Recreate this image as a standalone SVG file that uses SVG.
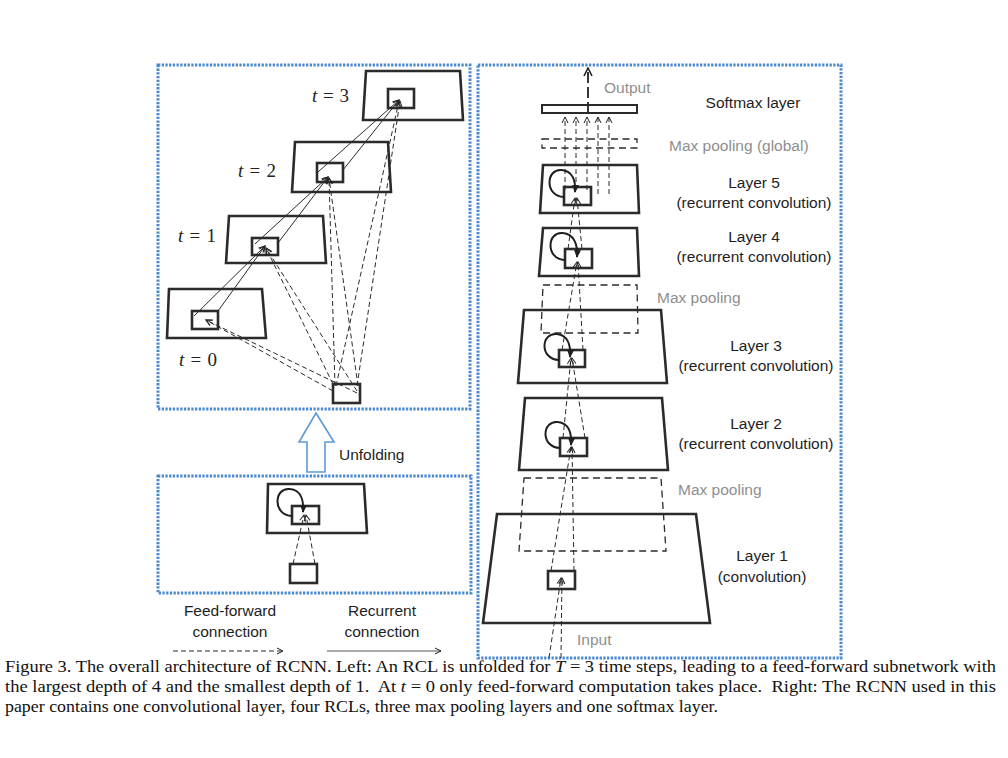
<svg xmlns="http://www.w3.org/2000/svg" width="1008" height="758" viewBox="0 0 1008 758">
<style>
.bg{fill:#fff}
.panel{fill:none;stroke:#4a89d0;stroke-width:3;stroke-dasharray:2.3 1.4}
.trap{fill:none;stroke:#2b2b2b;stroke-width:2.6;stroke-linejoin:miter}
.box{fill:#fff;stroke:#2b2b2b;stroke-width:2.6}
.pool{fill:none;stroke:#2b2b2b;stroke-width:1.3;stroke-dasharray:7 4.5}
.ff{fill:none;stroke:#2b2b2b;stroke-width:1;stroke-dasharray:5 3}
.rc{fill:none;stroke:#2b2b2b;stroke-width:1}
.loop{fill:none;stroke:#1e1e1e;stroke-width:2}
.lab{font-family:"Liberation Sans",Arial,sans-serif;font-size:15.5px;fill:#1e1e1e}
.grey{font-family:"Liberation Sans",Arial,sans-serif;font-size:15.5px;fill:#8e8e8e}
.tl{font-family:"Liberation Serif","Times New Roman",serif;font-size:19px;fill:#222}
.cap{font-family:"Liberation Serif","Times New Roman",serif;font-size:16.5px;fill:#111}
</style>
<defs>
<marker id="ch" markerUnits="userSpaceOnUse" markerWidth="8" markerHeight="8" viewBox="0 0 8 8" refX="7" refY="4" orient="auto">
<path d="M1,1 L7,4 L1,7" fill="none" stroke="#222" stroke-width="1"/>
</marker>
<marker id="chb" markerUnits="userSpaceOnUse" markerWidth="10" markerHeight="10" viewBox="0 0 10 10" refX="9" refY="5" orient="auto">
<path d="M1,1 L9,5 L1,9" fill="none" stroke="#222" stroke-width="1.6"/>
</marker>
<marker id="fa" markerUnits="userSpaceOnUse" markerWidth="8" markerHeight="8" viewBox="0 0 8 8" refX="7" refY="4" orient="auto">
<path d="M0,0.5 L8,4 L0,7.5 z" fill="#1e1e1e"/>
</marker>
</defs>
<rect class="bg" x="0" y="0" width="1008" height="758"/>

<!-- panels -->
<g id="panels">
<rect class="panel" x="158" y="65" width="312" height="344"/>
<rect class="panel" x="158" y="476" width="313" height="117"/>
<rect class="panel" x="478" y="65" width="363" height="593"/>
</g>

<!-- left top: unfolded RCL -->
<g id="t3">
<polygon class="trap" points="366,71 460,71 463,120 363,120"/>
<rect class="box" x="388" y="89" width="26" height="19"/>
<text class="tl" x="312" y="102" textLength="37"><tspan font-style="italic">t</tspan> = 3</text>
</g>
<g id="t2">
<polygon class="trap" points="295,142 388,142 391,192 292,192"/>
<rect class="box" x="317" y="163" width="26" height="19"/>
<text class="tl" x="238" y="177" textLength="38"><tspan font-style="italic">t</tspan> = 2</text>
</g>
<g id="t1">
<polygon class="trap" points="229,216 323,216 326,263 226,263"/>
<rect class="box" x="252" y="238" width="26" height="17"/>
<text class="tl" x="178" y="242" textLength="38"><tspan font-style="italic">t</tspan> = 1</text>
</g>
<g id="t0">
<polygon class="trap" points="169,289 262,289 266,338 167,338"/>
<rect class="box" x="192" y="311" width="26" height="18"/>
<text class="tl" x="179" y="366" textLength="38"><tspan font-style="italic">t</tspan> = 0</text>
</g>
<g id="input-left">
<rect class="box" x="333" y="384" width="27" height="19"/>
</g>

<!-- unfolding arrow -->
<g id="unfolding">
<polygon points="316,413 334,442 325,442 325,472 307,472 307,442 299,442" fill="#fff" stroke="#5b9bd5" stroke-width="1.6" stroke-linejoin="miter"/>
<text class="lab" x="339" y="460">Unfolding</text>
</g>

<!-- left bottom: folded RCL -->
<g id="rcl">
<polygon class="trap" points="268,484 364,484 367,533 267,533"/>
<rect class="box" x="292" y="506" width="27" height="18"/>
</g>
<g id="input-bottom">
<rect class="box" x="290" y="564" width="27" height="19"/>
</g>

<!-- legend -->
<g id="legend">
<text class="lab" x="230" y="616" text-anchor="middle">Feed-forward</text>
<text class="lab" x="230" y="637" text-anchor="middle">connection</text>
<text class="lab" x="382" y="616" text-anchor="middle">Recurrent</text>
<text class="lab" x="382" y="637" text-anchor="middle">connection</text>
<line class="ff" x1="173" y1="651" x2="283" y2="651" marker-end="url(#ch)"/>
<line x1="327" y1="651" x2="441" y2="651" stroke="#555" stroke-width="1" marker-end="url(#ch)"/>
</g>

<!-- right panel -->
<g id="softmax">
<rect x="542" y="105" width="95" height="8" fill="#fff" stroke="#2b2b2b" stroke-width="2"/>
<text class="lab" x="753" y="108" text-anchor="middle">Softmax layer</text>
<text class="grey" x="604" y="93">Output</text>
</g>
<g id="pool-global">
<rect class="pool" x="542" y="139" width="95" height="9"/>
<text class="grey" x="669" y="151">Max pooling (global)</text>
</g>
<g id="layer5">
<polygon class="trap" points="543,165 637,165 639,213 540,213"/>
<rect class="box" x="564" y="187" width="27" height="18"/>
<text class="lab" x="754" y="188" text-anchor="middle">Layer 5</text>
<text class="lab" x="754" y="208" text-anchor="middle">(recurrent convolution)</text>
</g>
<g id="layer4">
<polygon class="trap" points="543,228 637,228 639,276 539,276"/>
<rect class="box" x="565" y="249" width="27" height="19"/>
<text class="lab" x="754" y="242" text-anchor="middle">Layer 4</text>
<text class="lab" x="754" y="262" text-anchor="middle">(recurrent convolution)</text>
</g>
<g id="layer3">
<polygon class="trap" points="524,310 661,310 667,383 518,383"/>
<rect class="box" x="559" y="350" width="26" height="17"/>
<text class="lab" x="756" y="351" text-anchor="middle">Layer 3</text>
<text class="lab" x="756" y="371" text-anchor="middle">(recurrent convolution)</text>
</g>
<g id="pool2">
<polygon class="pool" points="543,285 637,285 638,333 541,333"/>
<text class="grey" x="657" y="303">Max pooling</text>
</g>
<g id="layer2">
<polygon class="trap" points="525,398 662,398 668,470 519,470"/>
<rect class="box" x="560" y="438" width="27" height="18"/>
<text class="lab" x="756" y="429" text-anchor="middle">Layer 2</text>
<text class="lab" x="756" y="449" text-anchor="middle">(recurrent convolution)</text>
</g>
<g id="layer1">
<polygon class="trap" points="497,514 696,514 710,623 483,623"/>
<rect class="box" x="548" y="571" width="27" height="18"/>
<text class="lab" x="762" y="561" text-anchor="middle">Layer 1</text>
<text class="lab" x="762" y="582" text-anchor="middle">(convolution)</text>
</g>
<g id="pool1">
<polygon class="pool" points="524,478 661,478 666,551 519,551"/>
<text class="grey" x="678" y="495">Max pooling</text>
</g>
<g id="input-right">
<text class="grey" x="577" y="645">Input</text>
</g>

<!-- connectors -->
<g id="connectors">
<!-- left top feed-forward (dashed) -->
<line class="ff" x1="333" y1="391" x2="206" y2="320" marker-end="url(#ch)"/>
<line class="ff" x1="357" y1="393" x2="206" y2="320" marker-end="url(#ch)"/>
<line class="ff" x1="333" y1="384" x2="266" y2="248" marker-end="url(#ch)"/>
<line class="ff" x1="357" y1="391" x2="266" y2="248" marker-end="url(#ch)"/>
<line class="ff" x1="335" y1="386" x2="329" y2="178" marker-end="url(#ch)"/>
<line class="ff" x1="358" y1="386" x2="329" y2="178" marker-end="url(#ch)"/>
<line class="ff" x1="336" y1="386" x2="399" y2="101" marker-end="url(#ch)"/>
<line class="ff" x1="357" y1="386" x2="400" y2="101" marker-end="url(#ch)"/>
<!-- left top recurrent (solid) -->
<line class="rc" x1="194" y1="316" x2="265" y2="246" marker-end="url(#ch)"/>
<line class="rc" x1="218" y1="311" x2="265" y2="246" marker-end="url(#ch)"/>
<line class="rc" x1="255" y1="244" x2="328" y2="177" marker-end="url(#ch)"/>
<line class="rc" x1="278" y1="243" x2="328" y2="177" marker-end="url(#ch)"/>
<line class="rc" x1="318" y1="172" x2="399" y2="100" marker-end="url(#ch)"/>
<line class="rc" x1="343" y1="170" x2="399" y2="100" marker-end="url(#ch)"/>
<!-- left bottom -->
<line class="ff" x1="293" y1="564" x2="304" y2="515" marker-end="url(#ch)"/>
<line class="ff" x1="315" y1="564" x2="306" y2="515" marker-end="url(#ch)"/>
<path class="loop" d="M292,516 C272,515 274,487 290,489 C300,490 304,499 303,512" marker-end="url(#fa)"/>
<!-- right: output -->
<line x1="588" y1="113" x2="588" y2="68" stroke="#222" stroke-width="1.8" stroke-dasharray="11 4" marker-end="url(#chb)"/>
<!-- right: layer5 to softmax -->
<line class="ff" x1="565" y1="190" x2="565" y2="117" marker-end="url(#ch)"/>
<line class="ff" x1="576" y1="190" x2="576" y2="117" marker-end="url(#ch)"/>
<line class="ff" x1="587" y1="190" x2="587" y2="117" marker-end="url(#ch)"/>
<line class="ff" x1="598" y1="194" x2="598" y2="117" marker-end="url(#ch)"/>
<line class="ff" x1="609" y1="194" x2="609" y2="117" marker-end="url(#ch)"/>
<!-- right: feed-forward between layers -->
<line class="ff" x1="568" y1="249" x2="575" y2="198" marker-end="url(#ch)"/>
<line class="ff" x1="582" y1="249" x2="577" y2="198" marker-end="url(#ch)"/>
<line class="ff" x1="562" y1="350" x2="577" y2="262" marker-end="url(#ch)"/>
<line class="ff" x1="583" y1="350" x2="578" y2="262" marker-end="url(#ch)"/>
<line class="ff" x1="563" y1="438" x2="571" y2="358" marker-end="url(#ch)"/>
<line class="ff" x1="585" y1="438" x2="572" y2="358" marker-end="url(#ch)"/>
<line class="ff" x1="551" y1="571" x2="571" y2="447" marker-end="url(#ch)"/>
<line class="ff" x1="574" y1="571" x2="572" y2="447" marker-end="url(#ch)"/>
<line class="ff" x1="549" y1="658" x2="561" y2="578" marker-end="url(#ch)"/>
<line class="ff" x1="561" y1="658" x2="562" y2="578" marker-end="url(#ch)"/>
<!-- right: self loops -->
<path class="loop" d="M564,197 C544,196 546,168 562,170 C572,171 576,180 575,192" marker-end="url(#fa)"/>
<path class="loop" d="M565,260 C545,259 547,231 563,233 C573,234 578,243 577,257" marker-end="url(#fa)"/>
<path class="loop" d="M559,360 C539,359 541,332 557,334 C567,335 571,344 570,357" marker-end="url(#fa)"/>
<path class="loop" d="M560,448 C540,447 542,420 558,422 C568,423 572,432 571,445" marker-end="url(#fa)"/>
</g>

<!-- caption -->
<g id="caption">
<text class="cap" x="5" y="672" textLength="991" lengthAdjust="spacingAndGlyphs">Figure 3. The overall architecture of RCNN. Left: An RCL is unfolded for <tspan font-style="italic">T</tspan> = 3 time steps, leading to a feed-forward subnetwork with</text>
<text class="cap" x="5" y="692" textLength="991" lengthAdjust="spacingAndGlyphs">the largest depth of 4 and the smallest depth of 1.&#160; At <tspan font-style="italic">t</tspan> = 0 only feed-forward computation takes place.&#160; Right: The RCNN used in this</text>
<text class="cap" x="5" y="712" textLength="713" lengthAdjust="spacingAndGlyphs">paper contains one convolutional layer, four RCLs, three max pooling layers and one softmax layer.</text>
</g>
</svg>
